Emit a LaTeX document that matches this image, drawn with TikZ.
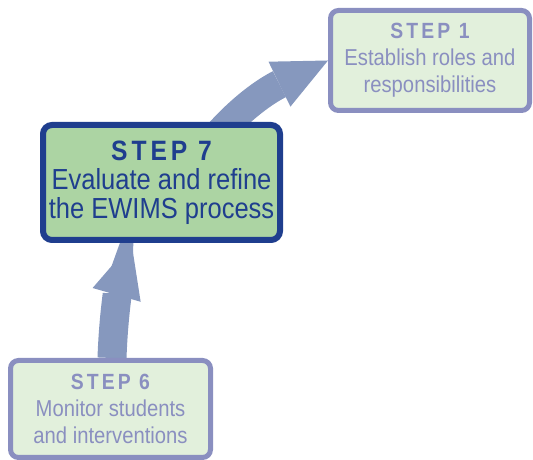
\documentclass[tikz,border=0pt]{standalone}
\usepackage{fontspec}
\setmainfont{Liberation Sans}[FakeStretch=0.88]
\newfontfamily\stepfont{Liberation Sans}[FakeStretch=0.88, LetterSpace=14]
\usepackage{tikz}
\usetikzlibrary{arrows.meta, backgrounds, positioning}
\definecolor{lavender}{HTML}{8A8FC0}
\definecolor{palegreen}{HTML}{E2F0DC}
\definecolor{midgreen}{HTML}{ACD4A3}
\definecolor{navy}{HTML}{1F3E8E}
\definecolor{flowblue}{HTML}{8698BE}
\tikzset{
x=1pt, y=1pt, % one unit is one pixel of the page
stepbox/.style={draw=lavender, fill=palegreen, text=lavender, line width=5pt, rounded corners=8pt, align=center, font=\fontsize{23}{27}\selectfont}, % the pale boxes
bigbox/.style={draw=navy, fill=midgreen, text=navy, line width=6pt, rounded corners=9pt, align=center, font=\fontsize{29}{29}\selectfont}, % the box in the middle
flow/.style={flowblue, line width=29pt, -{Triangle[length=54pt, width=50pt, line width=0pt]}}, % the broad arrows
}
\newcommand{\stp}[2][22]{{\stepfont\bfseries\fontsize{#1}{28}\selectfont #2}}

\begin{document}
\begin{tikzpicture}
  \useasboundingbox (0,0) rectangle (533,460);
  \node[stepbox, minimum width=199pt, minimum height=100pt] (s1) at (430,399.5) {\stp{STEP 1}\\Establish roles and\\responsibilities};
  \node[bigbox, minimum width=237pt, minimum height=115pt] (s7) at (161.5,277.5) {\stp[28]{STEP 7}\\Evaluate and refine\\the EWIMS process};
  \node[stepbox, minimum width=200pt, minimum height=97pt] (s6) at (110.5,51) {\stp{STEP 6}\\Monitor students\\and interventions};

  \begin{scope}[on background layer]
    \draw[flow] ([xshift=1.5pt]s6.north) to[out=88, in=-106] ([xshift=-30pt]s7.south);
    \draw[flow] ([xshift=50pt, yshift=-20pt]s7.north) to[out=50, in=-154] (s1.west);
  \end{scope}
\end{tikzpicture}
\end{document}
